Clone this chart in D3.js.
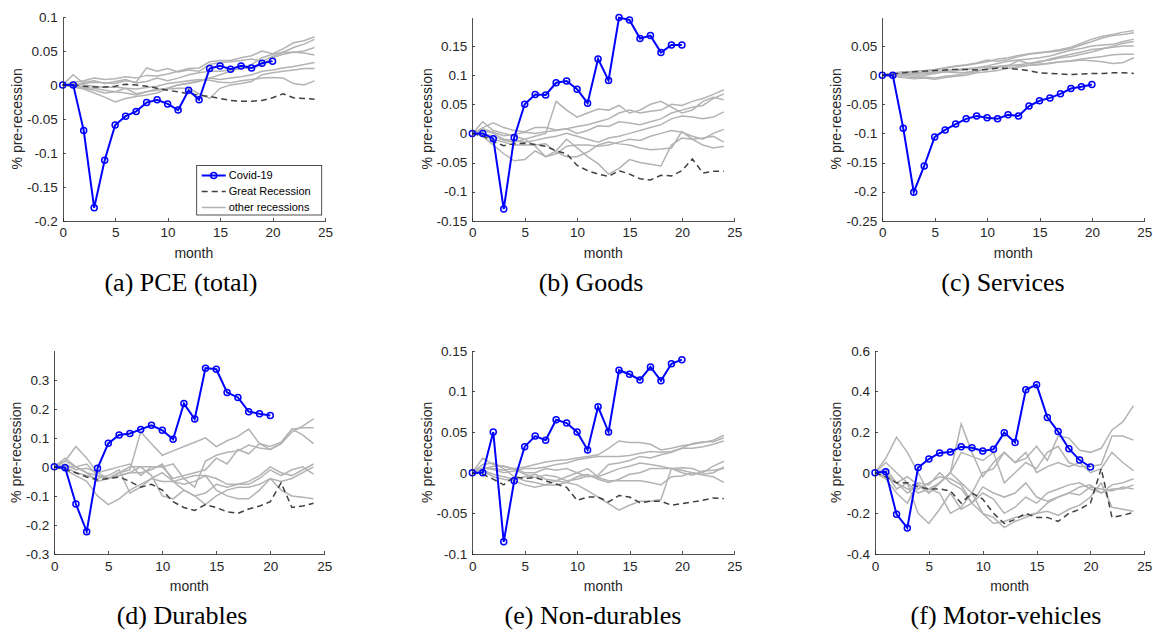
<!DOCTYPE html>
<html>
<head>
<meta charset="utf-8">
<script src="https://cdn.jsdelivr.net/npm/d3@7"></script>
<style>
body{margin:0;background:#fff;}
svg{display:block;}
.axis path,.axis line{stroke:#262626;stroke-width:0.8;shape-rendering:crispEdges;}
.axis text{font-family:"Liberation Sans",Arial,sans-serif;font-size:13.5px;fill:#262626;}
.ylab,.xlab{font-family:"Liberation Sans",Arial,sans-serif;font-size:14px;fill:#262626;}
.caption{font-family:"Liberation Serif","Times New Roman",serif;font-size:26px;fill:#000;}
.legend text{font-family:"Liberation Sans",Arial,sans-serif;font-size:11px;fill:#000;}
.other{fill:none;stroke:#b3b3b3;stroke-width:1.5;}
.great{fill:none;stroke:#404040;stroke-width:1.5;stroke-dasharray:6,4;}
.covid{fill:none;stroke:#0000ff;stroke-width:2;}
.dot{fill:none;stroke:#0000ff;stroke-width:1.5;}
</style>
</head>
<body>
<script>

var W = 1153, H = 632;

//months after the start of each recession
var months = [0,1,2,3,4,5,6,7,8,9,10,11,12,13,14,15,16,17,18,19,20,21,22,23,24];
var covidMonths = [0,1,2,3,4,5,6,7,8,9,10,11,12,13,14,15,16,17,18,19,20];

var captions = ['(a) PCE (total)','(b) Goods','(c) Services','(d) Durables','(e) Non-durables','(f) Motor-vehicles'];
var legendLabels = ['Covid-19','Great Recession','other recessions'];

//(a) PCE total
var covidPCE = [0,0,-0.067,-0.181,-0.111,-0.059,-0.046,-0.039,-0.026,-0.022,-0.028,-0.037,-0.008,-0.022,0.024,0.028,0.023,0.028,0.025,0.032,0.035];
var greatPCE = [0,0,-0.002,-0.003,-0.003,-0.002,0.001,0,-0.002,-0.005,-0.008,-0.010,-0.013,-0.015,-0.017,-0.020,-0.023,-0.024,-0.024,-0.023,-0.019,-0.013,-0.019,-0.020,-0.021];
var otherPCE = [
  [0,0.004,0.006,0.010,0.008,0.009,0.012,0.010,0.014,0.013,0.016,0.020,0.024,0.025,0.034,0.036,0.036,0.040,0.043,0.050,0.046,0.053,0.062,0.065,0.071],
  [0,0.015,0.002,0.004,0.003,0.002,0.006,0.004,0.025,0.020,0.024,0.019,0.022,0.020,0.030,0.033,0.034,0.036,0.038,0.035,0.042,0.048,0.055,0.060,0.067],
  [0,-0.002,0.004,0.006,0.002,0.005,0.008,0.003,0.005,0.010,0.006,0.010,0.015,0.018,0.020,0.020,0.022,0.025,0.024,0.030,0.040,0.045,0.048,0.050,0.055],
  [0,0.003,-0.005,-0.008,-0.012,-0.010,-0.005,-0.013,-0.010,-0.008,-0.005,0,0.003,0.006,0.010,0.015,0.020,0.025,0.030,0.040,0.045,0.048,0.048,0.047,0.044],
  [0,-0.003,-0.006,-0.012,-0.018,-0.025,-0.020,-0.017,-0.015,-0.012,-0.005,0,0.002,0.005,0.010,0.008,0.010,0.012,0.015,0.020,0.022,0.025,0.027,0.030,0.033],
  [0,-0.002,-0.004,-0.005,-0.008,-0.010,-0.012,-0.015,-0.010,-0.006,-0.006,-0.005,-0.005,-0.013,-0.020,-0.005,0,0.002,0.005,0.015,0.018,0.020,0.022,0.024,0.024],
  [0,0.002,0,-0.002,-0.004,-0.003,-0.005,-0.006,-0.004,-0.002,0.002,0.004,0.006,0.008,0.007,0.004,0.003,0.006,0.008,0.010,0.011,0.010,0.002,0,0.006]
];

//(b) goods
var covidGoods = [0,0,-0.009,-0.130,-0.007,0.050,0.067,0.066,0.087,0.090,0.076,0.052,0.128,0.091,0.199,0.195,0.163,0.168,0.139,0.152,0.152];
var greatGoods = [0,-0.004,-0.014,-0.021,-0.018,-0.017,-0.019,-0.022,-0.030,-0.035,-0.055,-0.064,-0.070,-0.074,-0.064,-0.070,-0.078,-0.080,-0.072,-0.073,-0.064,-0.044,-0.068,-0.065,-0.065];
var otherGoods = [
  [0,0.020,0.005,0,-0.005,-0.010,-0.005,0,0.055,0.040,0.028,0.035,0.042,0.040,0.048,0.035,0.040,0.050,0.055,0.045,0.035,0.040,0.055,0.062,0.058],
  [0,0.010,0.018,0.010,0.005,0.003,0.010,0.010,0.006,0.008,0.012,0.015,0.020,0.025,0.035,0.040,0.035,0.038,0.040,0.050,0.048,0.055,0.060,0.067,0.075],
  [0,0.008,0.002,-0.004,-0.002,0.002,0,0.003,0.005,0.008,0,0.005,0.013,0.012,0.020,0.018,0.015,0.020,0.025,0.035,0.040,0.045,0.048,0.060,0.068],
  [0,0.005,0,-0.010,-0.012,-0.015,-0.012,-0.008,-0.005,0,-0.005,-0.010,-0.015,-0.008,-0.005,0,0.005,0.010,0.015,0.025,0.030,0.028,0.025,0.028,0.037],
  [0,-0.005,-0.020,-0.035,-0.047,-0.045,-0.030,-0.040,-0.035,-0.022,-0.020,-0.020,-0.022,-0.020,-0.015,-0.010,-0.012,-0.005,0,0.005,0.002,-0.005,-0.010,0,0.007],
  [0,-0.003,-0.010,-0.015,-0.020,-0.020,-0.020,-0.018,-0.032,-0.040,-0.040,-0.032,-0.020,-0.015,-0.018,-0.020,-0.025,-0.028,-0.027,-0.025,0.003,-0.010,-0.008,-0.005,-0.015],
  [0,0,-0.005,-0.012,-0.015,-0.010,-0.022,-0.040,-0.030,-0.010,-0.025,-0.040,-0.052,-0.070,-0.060,-0.045,-0.050,-0.053,-0.056,-0.020,-0.008,-0.010,-0.020,-0.025,-0.022]
];

//(c) services
var covidServices = [0,0,-0.091,-0.201,-0.156,-0.106,-0.094,-0.084,-0.075,-0.070,-0.073,-0.075,-0.068,-0.070,-0.053,-0.044,-0.039,-0.032,-0.023,-0.020,-0.016];
var greatServices = [0,0.002,0.004,0.006,0.007,0.008,0.009,0.010,0.010,0.009,0.010,0.012,0.012,0.010,0.008,0.004,0.003,0.002,0.001,0.002,0.003,0.003,0.004,0.004,0.003];
var otherServices = [
  [0,0.003,0.005,0.007,0.008,0.010,0.013,0.016,0.018,0.021,0.026,0.024,0.027,0.032,0.036,0.038,0.041,0.044,0.048,0.055,0.062,0.067,0.070,0.074,0.077],
  [0,0.004,0.006,0.004,0.006,0.009,0.012,0.015,0.017,0.020,0.023,0.028,0.030,0.034,0.037,0.039,0.040,0.042,0.046,0.052,0.058,0.064,0.068,0.070,0.073],
  [0,0.002,0.003,0.002,0.004,0.006,0.008,0.010,0.011,0.013,0.016,0.020,0.024,0.026,0.028,0.030,0.033,0.038,0.043,0.046,0.050,0.052,0.053,0.058,0.062],
  [0,0.001,0,-0.002,0,0.003,0.006,0.004,0.005,0.008,0.010,0.013,0.016,0.025,0.020,0.022,0.028,0.032,0.036,0.040,0.044,0.046,0.048,0.050,0.050],
  [0,-0.001,-0.003,-0.004,-0.003,-0.005,-0.002,0,0.003,0.006,0.012,0.015,0.016,0.018,0.020,0.024,0.026,0.030,0.032,0.036,0.040,0.045,0.050,0.055,0.058],
  [0,-0.002,-0.004,-0.006,-0.005,-0.007,-0.004,-0.002,0,0.004,0.006,0.008,0.012,0.014,0.017,0.018,0.020,0.023,0.025,0.028,0.030,0.032,0.035,0.036,0.036],
  [0,0.003,0.002,0.001,0.003,0.004,0.006,0.007,0.010,0.012,0.014,0.015,0.017,0.016,0.017,0.019,0.021,0.023,0.024,0.026,0.025,0.023,0.020,0.022,0.030]
];

//(d) durables
var covidDurables = [0,-0.003,-0.128,-0.223,-0.005,0.081,0.110,0.115,0.129,0.143,0.126,0.095,0.218,0.165,0.340,0.336,0.256,0.239,0.190,0.183,0.177];
var greatDurables = [0,-0.010,-0.020,-0.035,-0.045,-0.040,-0.035,-0.050,-0.070,-0.060,-0.080,-0.120,-0.140,-0.150,-0.130,-0.140,-0.155,-0.160,-0.145,-0.135,-0.120,-0.055,-0.140,-0.135,-0.125];
var otherDurables = [
  [0,0.030,0,-0.020,-0.030,-0.040,-0.020,-0.010,0.120,0.080,0.040,0.055,0.070,0.085,0.100,0.070,0.090,0.105,0.130,0.080,0.060,0.080,0.120,0.140,0.165],
  [0,0.020,0.070,0.030,-0.020,-0.040,-0.030,-0.020,0,0,0,-0.040,-0.030,-0.020,-0.010,0.030,0.010,0.060,0.045,0.080,0.070,0.085,0.130,0.135,0.135],
  [0,0.010,-0.010,-0.005,-0.020,-0.010,0,0.010,-0.030,0,0,0.010,-0.040,-0.070,0.020,0.040,0.050,0.055,0.075,0.065,0.060,0.080,0.130,0.110,0.080],
  [0,-0.010,-0.030,-0.050,-0.100,-0.130,-0.110,-0.080,-0.060,-0.040,-0.050,-0.050,-0.040,-0.030,-0.030,-0.040,-0.060,-0.060,-0.050,-0.030,0,-0.020,-0.030,-0.010,0.010],
  [0,0,0,0.010,-0.030,-0.040,-0.030,-0.020,-0.020,-0.010,0.010,-0.050,-0.080,-0.100,-0.090,-0.060,-0.070,-0.060,-0.060,-0.040,-0.010,-0.030,-0.010,0,-0.025],
  [0,0,-0.020,-0.030,-0.040,-0.030,-0.010,-0.090,-0.070,-0.040,-0.020,-0.050,-0.060,-0.050,-0.030,-0.080,-0.100,-0.110,-0.110,-0.080,-0.040,-0.080,-0.100,-0.105,-0.110],
  [0,0.020,0,-0.020,-0.050,-0.040,-0.020,0,0,-0.030,-0.100,-0.110,-0.080,-0.100,-0.130,-0.100,-0.080,-0.070,-0.070,-0.060,-0.040,-0.050,-0.040,-0.020,0]
];

//(e) non-durables
var covidNonDurables = [0,0,0.050,-0.085,-0.010,0.032,0.045,0.040,0.065,0.061,0.050,0.028,0.081,0.050,0.126,0.121,0.114,0.130,0.113,0.134,0.139];
var greatNonDurables = [0,-0.002,-0.008,-0.015,-0.005,-0.007,-0.006,-0.010,-0.014,-0.018,-0.034,-0.030,-0.030,-0.036,-0.028,-0.030,-0.037,-0.035,-0.035,-0.040,-0.038,-0.036,-0.034,-0.031,-0.032];
var otherNonDurables = [
  [0,0.005,0.005,0.003,0.005,0.007,0.010,0.013,0.015,0.016,0.018,0.020,0.022,0.030,0.039,0.037,0.037,0.035,0.028,0.030,0.033,0.035,0.037,0.040,0.046],
  [0,0.006,0.004,0,0.002,0.005,0.005,0.007,0.010,0.012,0.016,0.018,0.020,0.020,0.020,0.021,0.024,0.026,0.025,0.026,0.030,0.036,0.038,0.038,0.043],
  [0,0.018,0.010,0.008,0.005,0,0,0.005,0.003,0.005,0,-0.005,-0.003,0.010,0.012,0.015,0.020,0.018,0.022,0.025,0.030,0.030,0.032,0.035,0.039],
  [0,0.002,-0.005,-0.008,-0.010,-0.015,-0.018,-0.015,-0.010,-0.005,0,0.005,-0.005,0,0.005,0.008,0.012,0.010,0.008,0.005,0.006,0.005,0,0.008,0.014],
  [0,0.010,0.012,0.005,-0.005,-0.010,-0.012,-0.015,-0.015,-0.012,-0.005,-0.002,-0.008,-0.012,-0.008,-0.002,0,0.005,0.005,0.005,0,-0.003,0.002,0.003,0.005],
  [0,0.003,-0.002,-0.005,-0.008,-0.005,-0.002,-0.008,-0.010,-0.012,-0.015,-0.022,-0.030,-0.038,-0.046,-0.040,-0.035,-0.035,-0.033,0.005,0.003,0,-0.002,0,0.007],
  [0,0.005,0.008,0.008,0.004,-0.002,-0.006,-0.003,-0.005,-0.010,-0.008,-0.004,-0.006,-0.010,-0.010,-0.010,-0.010,-0.012,-0.015,-0.005,-0.004,0,-0.003,-0.005,-0.012]
];

//(f) motor vehicles
var covidMotor = [0,0.005,-0.205,-0.272,0.025,0.067,0.097,0.102,0.128,0.123,0.107,0.115,0.197,0.149,0.408,0.433,0.272,0.202,0.118,0.062,0.028];
var greatMotor = [0,-0.020,-0.050,-0.050,-0.070,-0.080,-0.080,-0.090,-0.150,-0.100,-0.130,-0.200,-0.250,-0.230,-0.200,-0.220,-0.220,-0.240,-0.200,-0.180,-0.150,0.020,-0.220,-0.210,-0.195];
var otherMotor = [
  [0,0.050,0,-0.050,-0.100,-0.080,-0.050,0,0.240,0.100,-0.020,0.050,0.100,0.050,0.070,0.130,0.060,0.180,0.170,0.110,0.100,0.120,0.210,0.250,0.330],
  [0,0.070,0.175,0.100,0,-0.100,-0.050,0,0.100,0.080,0.060,0.100,-0.050,0,0.050,0.020,0.100,0.130,0.050,0.030,0.030,0.040,0.180,0.180,0.160],
  [0,0,-0.050,-0.020,-0.060,-0.100,-0.050,0,-0.050,-0.100,0,0.020,0.100,0.050,0.100,0,0.030,0.050,0.030,0.050,0,0.020,0.100,0.050,0.010],
  [0,-0.030,-0.100,-0.150,-0.050,-0.060,0,-0.050,-0.080,-0.150,-0.070,-0.100,-0.120,-0.100,-0.050,-0.120,-0.140,-0.120,-0.100,-0.070,-0.060,-0.100,-0.080,-0.080,-0.060],
  [0,0,-0.080,-0.050,-0.200,-0.250,-0.180,-0.100,-0.180,-0.150,-0.100,-0.130,-0.200,-0.170,-0.120,-0.150,-0.100,-0.080,-0.060,-0.050,-0.080,-0.100,-0.060,-0.050,-0.030],
  [0,-0.020,-0.050,-0.080,-0.080,-0.050,-0.020,-0.030,-0.060,-0.150,-0.200,-0.250,-0.240,-0.220,-0.210,-0.200,-0.150,-0.120,-0.100,-0.110,-0.070,-0.080,-0.090,-0.070,-0.080],
  [0,0.020,-0.050,-0.100,-0.060,-0.080,-0.100,-0.200,-0.170,-0.100,-0.200,-0.220,-0.270,-0.240,-0.220,-0.200,-0.190,-0.210,-0.180,-0.160,-0.120,-0.050,-0.170,-0.180,-0.190]
];

//y limits and ticks per panel
var yDomains = [[-0.2,0.1],[-0.15,0.2],[-0.25,0.1],[-0.3,0.4],[-0.1,0.15],[-0.4,0.6]];
var yTicks = [
  [-0.2,-0.15,-0.1,-0.05,0,0.05,0.1],
  [-0.15,-0.1,-0.05,0,0.05,0.1,0.15],
  [-0.25,-0.2,-0.15,-0.1,-0.05,0,0.05],
  [-0.3,-0.2,-0.1,0,0.1,0.2,0.3],
  [-0.1,-0.05,0,0.05,0.1,0.15],
  [-0.4,-0.2,0,0.2,0.4,0.6]
];
var xTicks = [0,5,10,15,20,25];

//panel boxes: left, right, top, bottom, ylabel offset, caption x
var layout = [
  [62.7,325,17,220.7,46,181],
  [472.3,734.3,17,220.7,45,591],
  [882.3,1144.3,17,220.7,46,1003],
  [54.3,324.3,350.7,554,38,182],
  [472.3,734.3,350.7,554,45,593],
  [875,1144.3,350.7,554,39,1006]
];

var svg = d3.select('body').append('svg')
    .attr('width',W)
    .attr('height',H);

function Panel(){

  var _box, _domainY, _ticksY, _caption, _legend = false;

  function exports(selection){

      var d = selection.datum();
      var left = _box[0], right = _box[1], top = _box[2], bottom = _box[3];

      //set scale
      var scaleX = d3.scaleLinear()
          .domain([0,25])
          .range([left,right]);

      var scaleY = d3.scaleLinear()
          .domain(_domainY)
          .range([bottom,top]);

      var line = d3.line()
          .x(function(v,i){return scaleX(months[i])})
          .y(function(v){return scaleY(v)});

      var plot = selection.append('g').attr('class','panel');

      //other recessions
      plot.selectAll('.other')
          .data(d.other)
          .enter()
          .append('path')
          .attr('class','other')
          .attr('d',line);

      //great recession
      plot.append('path')
          .attr('class','great')
          .datum(d.great)
          .attr('d',line);

      //covid
      plot.append('path')
          .attr('class','covid')
          .datum(d.covid)
          .attr('d',line);

      plot.selectAll('.dot')
          .data(d.covid)
          .enter()
          .append('circle')
          .attr('class','dot')
          .attr('cx',function(v,i){return scaleX(covidMonths[i])})
          .attr('cy',function(v){return scaleY(v)})
          .attr('r',3);

      //axes (ticks point inward, no box)
      var axisX = d3.axisBottom(scaleX)
          .tickValues(xTicks)
          .tickSizeInner(-3)
          .tickSizeOuter(0)
          .tickPadding(7);

      var axisY = d3.axisLeft(scaleY)
          .tickValues(_ticksY)
          .tickSizeInner(-3)
          .tickSizeOuter(0)
          .tickPadding(5)
          .tickFormat(function(v){return String(+v.toFixed(2))});

      plot.append('g').attr('class','axis axis-x')
          .attr('transform','translate(0,'+bottom+')')
          .call(axisX);

      plot.append('g').attr('class','axis axis-y')
          .attr('transform','translate('+left+',0)')
          .call(axisY);

      plot.selectAll('.axis .domain').attr('stroke','#262626');

      plot.append('text')
          .attr('class','xlab')
          .attr('x',(left+right)/2)
          .attr('y',bottom+37)
          .attr('text-anchor','middle')
          .text('month');

      plot.append('text')
          .attr('class','ylab')
          .attr('transform','translate('+(left-_box[4])+','+((top+bottom)/2)+') rotate(-90)')
          .attr('text-anchor','middle')
          .attr('dy','0.35em')
          .text('% pre-recession');

      plot.append('text')
          .attr('class','caption')
          .attr('x',_box[5])
          .attr('y',bottom+70)
          .attr('text-anchor','middle')
          .text(_caption);

      if(_legend) _drawLegend(plot,right,bottom);

  }//exports

  exports.box = function(_){
      if(!arguments.length) return _box;
      _box = _;
      return this;
  }

  exports.domainY = function(_){
      if(!arguments.length) return _domainY;
      _domainY = _;
      return this;
  }

  exports.ticksY = function(_){
      if(!arguments.length) return _ticksY;
      _ticksY = _;
      return this;
  }

  exports.caption = function(_){
      if(!arguments.length) return _caption;
      _caption = _;
      return this;
  }

  exports.legend = function(_){
      if(!arguments.length) return _legend;
      _legend = _;
      return this;
  }

  function _drawLegend(plot,right,bottom){

      var bw = 125, bh = 49.5;
      var lx = right-3.3-bw, ly = bottom-5.7-bh;

      var g = plot.append('g')
          .attr('class','legend')
          .attr('transform','translate('+lx+','+ly+')');

      g.append('rect')
          .attr('width',bw)
          .attr('height',bh)
          .attr('fill','#fff')
          .attr('stroke','#262626')
          .attr('stroke-width',0.8);

      var cls = ['covid','great','other'];

      var row = g.selectAll('.row')
          .data(legendLabels)
          .enter()
          .append('g')
          .attr('class','row')
          .attr('transform',function(t,i){return 'translate(0,'+(10+i*16)+')'});

      row.append('line')
          .attr('class',function(t,i){return cls[i]})
          .attr('x1',5)
          .attr('x2',29)
          .attr('y1',0)
          .attr('y2',0);

      row.filter(function(t,i){return i==0})
          .append('circle')
          .attr('class','dot')
          .attr('cx',17)
          .attr('cy',0)
          .attr('r',3);

      row.append('text')
          .attr('x',32)
          .attr('dy','0.35em')
          .text(function(t){return t});

  }//_drawLegend

  return exports;

}

var panelData = [
  {covid:covidPCE, great:greatPCE, other:otherPCE},
  {covid:covidGoods, great:greatGoods, other:otherGoods},
  {covid:covidServices, great:greatServices, other:otherServices},
  {covid:covidDurables, great:greatDurables, other:otherDurables},
  {covid:covidNonDurables, great:greatNonDurables, other:otherNonDurables},
  {covid:covidMotor, great:greatMotor, other:otherMotor}
];

for(i=0;i<panelData.length;i++){

    var panel = Panel()
        .box(layout[i])
        .domainY(yDomains[i])
        .ticksY(yTicks[i])
        .caption(captions[i])
        .legend(i==0);

    svg.append('g')
        .datum(panelData[i])
        .call(panel);
}

</script>
</body>
</html>
